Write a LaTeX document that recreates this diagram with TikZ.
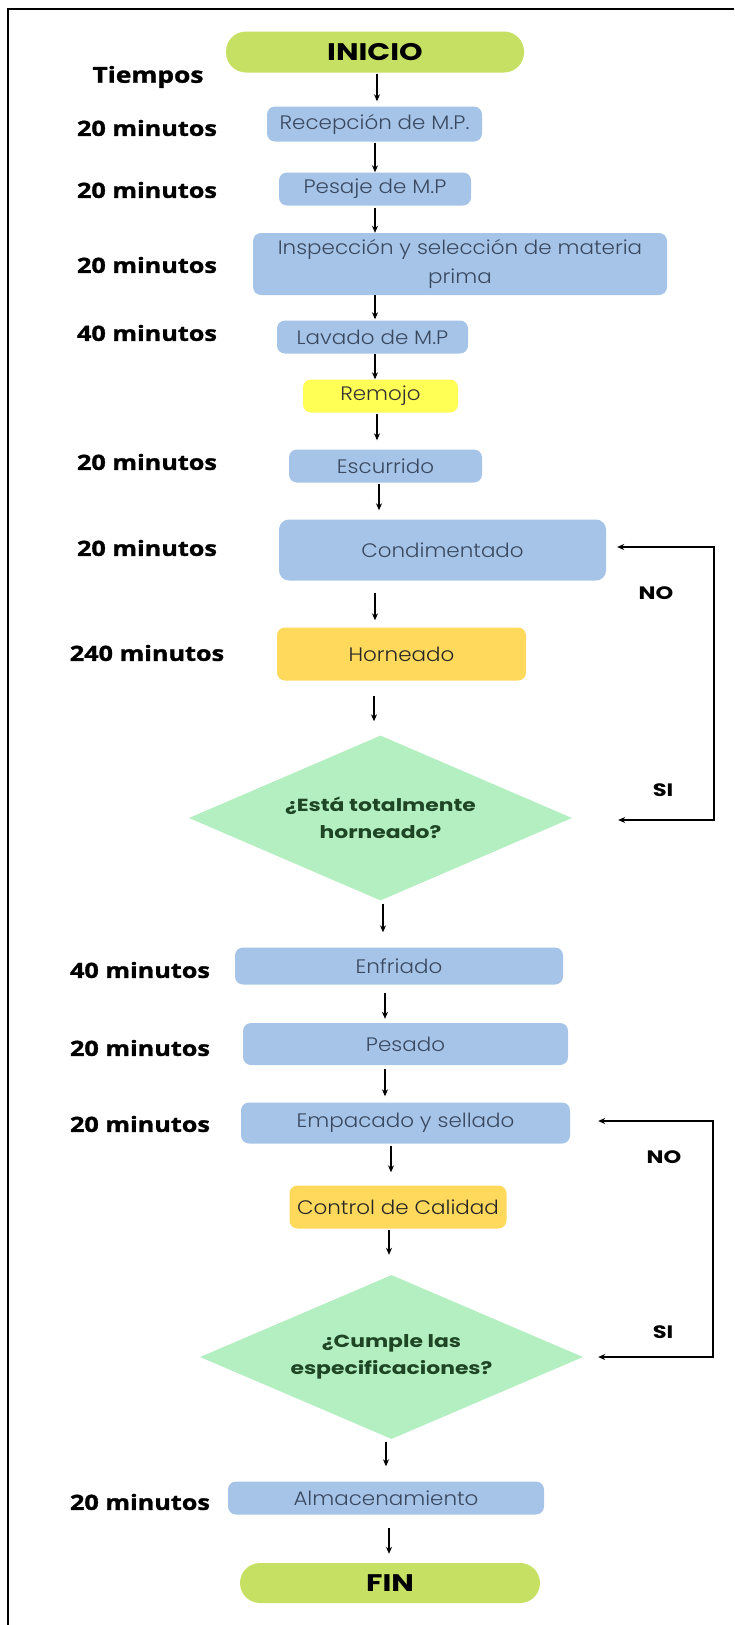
\documentclass[tikz,border=0pt]{standalone}
\usepackage{fontspec}
\usepackage{xcolor}
\usepackage{tikz}
\setmainfont{Poppins}
\newfontfamily\boxfont{Poppins Light}[FakeStretch=1.1]
\newfontfamily\timefont{Open Sans}[FakeStretch=1.2, BoldFeatures={FakeBold=1.4}]
\newfontfamily\headfont{Poppins}[FakeStretch=1.25]
\usetikzlibrary{shapes,arrows,positioning,calc,arrows.meta}

\definecolor{azulcaja}{HTML}{A6C4E8}
\definecolor{verdeini}{HTML}{C6E063}
\definecolor{amarillo}{HTML}{FFD95C}
\definecolor{limon}{HTML}{FFFF55}
\definecolor{verdedec}{HTML}{B4EFC1}
\definecolor{textocaja}{HTML}{3A4960}
\definecolor{textodec}{HTML}{1E4524}

\begin{document}
\begin{tikzpicture}[
    x=1pt, y=-1pt,
    proceso/.style={rectangle, rounded corners=8pt, fill=azulcaja, text=textocaja, inner sep=0pt, font=\boxfont\fontsize{19.5}{29}\selectfont},
    terminal/.style={rectangle, rounded corners=20pt, fill=verdeini, inner sep=0pt, font=\headfont\bfseries\fontsize{24}{26}\selectfont},
    decision/.style={diamond, aspect=2.32, fill=verdedec, text=textodec, align=center, inner sep=0pt, font=\headfont\bfseries\fontsize{17.5}{27}\selectfont},
    tiempo/.style={font=\timefont\bfseries\fontsize{21}{24}\selectfont},
    etiqueta/.style={font=\headfont\bfseries\fontsize{18}{20}\selectfont},
    flecha/.style={-{Stealth[length=7pt,width=6pt]}, line width=1.3pt},
    retorno/.style={{Stealth[length=7pt,width=6pt]}-{Stealth[length=7pt,width=6pt]}, line width=1.3pt}
]
    \useasboundingbox (0,0) rectangle (734,1625);
    \draw[line width=2pt] (734,9) -- (8,9) -- (8,1625);

    % flujo principal
    \node[terminal, minimum width=298pt, minimum height=41pt] (inicio) at (375,52) {INICIO};
    \node[proceso, minimum width=215pt, minimum height=35pt] (recep) at (374.5,124) {Recepción de M.P.};
    \node[proceso, minimum width=192pt, minimum height=33pt] (pesaje) at (375,189) {Pesaje de M.P};
    \node[proceso, minimum width=414pt, minimum height=62pt, align=center] (insp) at (460,264) {Inspección y selección de materia\\prima};
    \node[proceso, minimum width=191pt, minimum height=33pt] (lavado) at (372.5,337) {Lavado de M.P};
    \node[proceso, fill=limon, text=black!80, minimum width=155pt, minimum height=33pt] (remojo) at (380.5,396) {Remojo};
    \node[proceso, minimum width=193pt, minimum height=33pt] (escurrido) at (385.5,466) {Escurrido};
    \node[proceso, rounded corners=10pt, minimum width=327pt, minimum height=61pt] (cond) at (442.5,550) {Condimentado};
    \node[proceso, fill=amarillo, text=black!85, minimum width=249pt, minimum height=53pt] (horn) at (401.5,654) {Horneado};
    \node[decision, minimum width=383pt, minimum height=165pt] (dec1) at (380.5,818) {¿Está totalmente\\horneado?};
    \node[proceso, minimum width=328pt, minimum height=37pt] (enfriado) at (399,966) {Enfriado};
    \node[proceso, minimum width=325pt, minimum height=42pt] (pesado) at (405.5,1044) {Pesado};
    \node[proceso, minimum width=329pt, minimum height=41pt] (empacado) at (405.5,1123) {Empacado y sellado};
    \node[proceso, fill=amarillo, text=black!85, minimum width=217pt, minimum height=43pt] (control) at (398,1207) {Control de Calidad};
    \node[decision, minimum width=383pt, minimum height=164pt] (dec2) at (391.5,1357) {¿Cumple las\\especificaciones?};
    \node[proceso, minimum width=316pt, minimum height=33pt] (almac) at (386,1498) {Almacenamiento};
    \node[terminal, minimum width=300pt, minimum height=40pt] (fin) at (390,1583) {FIN};

    % tiempos
    \node[tiempo, font=\timefont\bfseries\fontsize{22}{24}\selectfont] (tiempos) at (148,77) {Tiempos};
    \node[tiempo] (t1) at (147,128) {20 minutos};
    \node[tiempo] (t2) at (147,190) {20 minutos};
    \node[tiempo] (t3) at (147,265) {20 minutos};
    \node[tiempo] (t4) at (147,333) {40 minutos};
    \node[tiempo] (t5) at (147,462) {20 minutos};
    \node[tiempo] (t6) at (147,548) {20 minutos};
    \node[tiempo] (t7) at (147,653) {240 minutos};
    \node[tiempo] (t8) at (140,970) {40 minutos};
    \node[tiempo] (t9) at (140,1048) {20 minutos};
    \node[tiempo] (t10) at (140,1124) {20 minutos};
    \node[tiempo] (t11) at (140,1502) {20 minutos};

    % flechas
    \draw[flecha, shorten <=1pt, shorten >=5pt] (inicio.south -| 377,0) -- (recep.north -| 377,0);
    \draw[flecha, shorten <=1pt] (recep.south -| 375,0) -- (pesaje.north -| 375,0);
    \draw[flecha, shorten <=2pt] (pesaje.south -| 375,0) -- (insp.north -| 375,0);
    \draw[flecha, shorten >=1pt] (insp.south -| 375,0) -- (lavado.north -| 375,0);
    \draw[flecha] (lavado.south -| 375,0) -- (remojo.north -| 375,0);
    \draw[flecha, shorten <=1pt, shorten >=9pt] (remojo.south -| 377,0) -- (escurrido.north -| 377,0);
    \draw[flecha, shorten <=1pt, shorten >=9pt] (escurrido.south -| 379,0) -- (cond.north -| 379,0);
    \draw[flecha, shorten <=12pt, shorten >=7pt] (cond.south -| 375,0) -- (horn.north -| 375,0);
    \draw[flecha, shorten <=15pt, shorten >=14pt] (horn.south -| 374,0) -- (dec1.north -| 374,0);
    \draw[flecha, shorten <=3pt, shorten >=15pt] (dec1.south -| 383,0) -- (enfriado.north -| 383,0);
    \draw[flecha, shorten <=8pt, shorten >=4pt] (enfriado.south -| 385,0) -- (pesado.north -| 385,0);
    \draw[flecha, shorten <=4pt, shorten >=6pt] (pesado.south -| 385,0) -- (empacado.north -| 385,0);
    \draw[flecha, shorten <=2pt, shorten >=13pt] (empacado.south -| 391,0) -- (control.north -| 391,0);
    \draw[flecha, shorten <=1pt, shorten >=20pt] (control.south -| 389,0) -- (dec2.north -| 389,0);
    \draw[flecha, shorten <=3pt, shorten >=15pt] (dec2.south -| 386,0) -- (almac.north -| 386,0);
    \draw[flecha, shorten <=13pt, shorten >=9pt] (almac.south -| 389,0) -- (fin.north -| 389,0);

    % lazos de revision
    \draw[retorno] ([xshift=11pt,yshift=3pt]cond.east) -| (714,700) |- ([xshift=46pt,yshift=-2pt]dec1.east);
    \draw[retorno] ([xshift=28pt,yshift=2pt]empacado.east) -| (713,1200) |- ([xshift=15pt]dec2.east);
    \node[etiqueta] (no1) at (656,593) {NO};
    \node[etiqueta] (si1) at (663,790) {SI};
    \node[etiqueta] (no2) at (664,1157) {NO};
    \node[etiqueta] (si2) at (663,1332) {SI};
\end{tikzpicture}
\end{document}
